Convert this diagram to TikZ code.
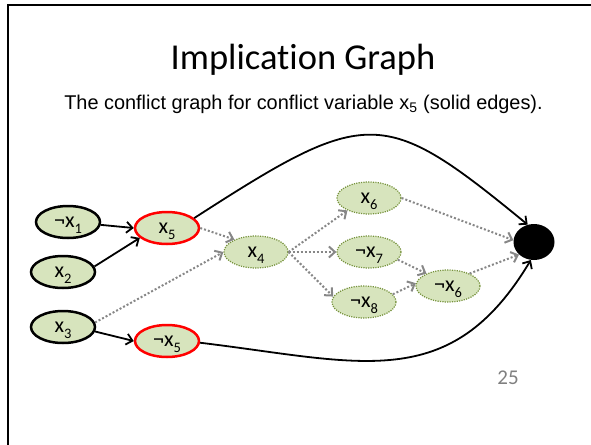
\documentclass[tikz,border=0pt]{standalone}
\usepackage{fontspec}
\setmainfont{Carlito}[Ligatures=NoCommon]
\newfontfamily\arialf{Liberation Sans}
\usetikzlibrary{shapes.geometric,arrows.meta}
\definecolor{nodefill}{RGB}{215,228,189}
\definecolor{olivedot}{RGB}{118,146,60}
\definecolor{edgegray}{RGB}{135,135,135}
\definecolor{numgray}{RGB}{128,128,128}
\newcommand{\nsub}[1]{\raisebox{-6pt}[0pt][0pt]{\fontsize{14.5}{15}\selectfont #1}}
\tikzset{
  varnode/.style={ellipse, fill=nodefill, minimum width=64pt, minimum height=32pt, inner sep=0pt, font=\fontsize{22}{24}\selectfont},
  solidnode/.style={varnode, draw=black, line width=2.5pt},
  rednode/.style={varnode, draw=red, line width=2.5pt},
  dotnode/.style={varnode, draw=olivedot, line width=1.2pt, dash pattern=on 1.2pt off 1.2pt},
  confnode/.style={ellipse, fill=black, minimum width=41pt, minimum height=36pt, inner sep=0pt},
  solidedge/.style={draw=black, line width=1.8pt, -{Straight Barb[length=6pt,width=11pt]}},
  dotedge/.style={draw=edgegray, line width=2pt, dash pattern=on 2pt off 2pt, -{Straight Barb[length=6pt,width=11pt]}},
}
\begin{document}
\begin{tikzpicture}[x=1pt,y=-1pt]
\useasboundingbox (0,0) rectangle (591,444);
\draw[line width=2pt] (8,460) -- (8,5) -- (600,5);
\node[anchor=base, font=\fontsize{36.5}{40}\selectfont] (title) at (303,70) {Implication Graph};
\node[anchor=base, font=\arialf\fontsize{19.9}{22}\selectfont] (sub) at (303.5,109) {The conflict graph for conflict variable x\textsubscript{5} (solid edges).};
\node[anchor=base, text=numgray, font=\fontsize{21}{24}\selectfont] (pnum) at (508,384) {25};

\node[solidnode] (n1) at (68,222) {¬x\nsub{1}};
\node[solidnode] (n2) at (63,272) {x\nsub{2}};
\node[solidnode] (n3) at (63,327) {x\nsub{3}};
\node[rednode] (x5) at (167,228) {x\nsub{5}};
\node[rednode] (nx5) at (167,341) {¬x\nsub{5}};
\node[dotnode] (x4) at (256,252) {x\nsub{4}};
\node[dotnode] (x6) at (369,198) {x\nsub{6}};
\node[dotnode] (nx7) at (369,252) {¬x\nsub{7}};
\node[dotnode] (nx8) at (364,302) {¬x\nsub{8}};
\node[dotnode] (nx6) at (448,286) {¬x\nsub{6}};
\node[confnode] (conf) at (534,242) {};

\draw[solidedge] (n1.-5) -- (x5.west);
\draw[solidedge] (n2.10) -- (x5.200);
\draw[solidedge] (n3.-8) -- (nx5.west);
\draw[solidedge] (x5.20) .. controls (368,106) and (383,106) .. (conf.110);
\draw[solidedge] (nx5.-3) .. controls (360,362) and (450,395) .. (conf.-100);

\draw[dotedge] (x5.east) -- (x4.150);
\draw[dotedge] (n3.8) -- (x4.west);
\draw[dotedge] (x4.east) -- (x6.210);
\draw[dotedge] (x4.east) -- (nx7.west);
\draw[dotedge] (x4.east) -- (nx8.170);
\draw[dotedge] (x6.east) -- (conf.175);
\draw[dotedge] (nx7.-15) -- (nx6.150);
\draw[dotedge] (nx8.15) -- (nx6.175);
\draw[dotedge] (nx6.30) -- (conf.220);
\end{tikzpicture}
\end{document}
